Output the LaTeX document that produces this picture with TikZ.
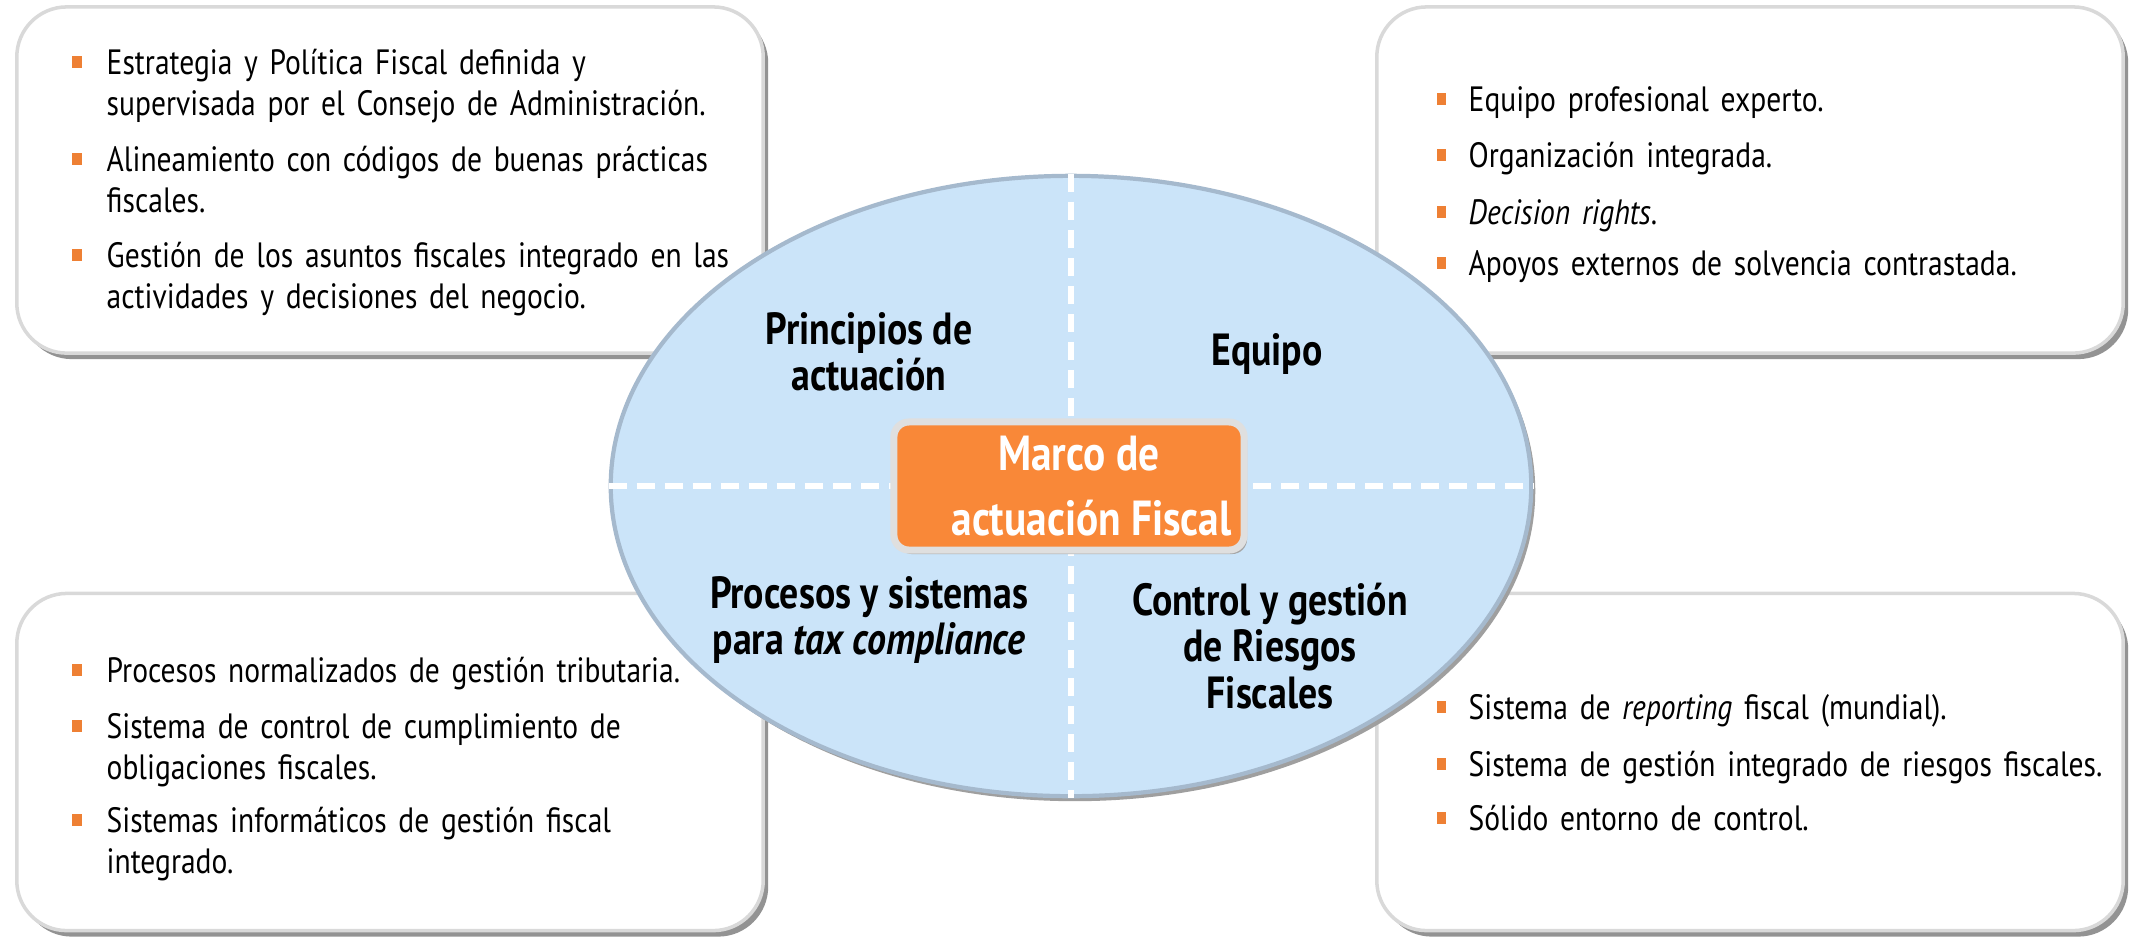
\documentclass[tikz,border=0pt]{standalone}
\usepackage{fontspec}
\setmainfont[FakeStretch=0.84]{PT Sans}
\usetikzlibrary{shapes.geometric,shadows,positioning}

\definecolor{marcoorange}{RGB}{249,136,56}
\definecolor{bulletorange}{RGB}{238,128,52}
\definecolor{marcoblue}{RGB}{203,228,249}
\definecolor{rimblue}{RGB}{165,185,205}

\tikzset{
  panel/.style={draw=gray!30, line width=1pt, fill=white, rounded corners=0.5cm,
    minimum width=7.46cm, minimum height=3.46cm,
    drop shadow={shadow xshift=0.05cm, shadow yshift=-0.06cm, fill=gray!85, opacity=1}},
  bullet/.style={fill=bulletorange, minimum width=0.09cm, minimum height=0.12cm, inner sep=0pt},
  item/.style={anchor=base west, text width=7cm, align=left, inner sep=0pt,
    font=\fontsize{10}{11.8}\selectfont},
  quarter/.style={align=center, inner sep=0pt, font=\bfseries\fontsize{12.8}{13.2}\selectfont},
  cut/.style={white, line width=0.06cm, dash pattern=on 0.18cm off 0.1cm}
}

\begin{document}
\begin{tikzpicture}[x=0.01cm,y=-0.01cm]
\useasboundingbox (0,0) rectangle (2129,941);

% four panels
\node[panel] (pol) at (390,180) {};
\node[panel] (team) at (1750,180) {};
\node[panel, minimum height=3.37cm] (proc) at (390,762) {};
\node[panel, minimum height=3.37cm] (risk) at (1750,762) {};

% principles
\node[bullet] (pol1b) at (77,62) {};
\node[item] (pol1) at (106,74) {Estrategia y Política Fiscal definida y\\supervisada por el Consejo de Administración.};
\node[bullet] (pol2b) at (77,159) {};
\node[item] (pol2) at (106,171) {Alineamiento con códigos de buenas prácticas\\fiscales.};
\node[bullet] (pol3b) at (77,255) {};
\node[item] (pol3) at (106,267) {Gestión de los asuntos fiscales integrado en las\\actividades y decisiones del negocio.};

% team
\node[bullet] (team1b) at (1441,99) {};
\node[item] (team1) at (1468,111) {Equipo profesional experto.};
\node[bullet] (team2b) at (1441,155) {};
\node[item] (team2) at (1468,167) {Organización integrada.};
\node[bullet] (team3b) at (1441,212) {};
\node[item] (team3) at (1468,224) {\textit{Decision rights}.};
\node[bullet] (team4b) at (1441,263) {};
\node[item] (team4) at (1468,275) {Apoyos externos de solvencia contrastada.};

% processes
\node[bullet] (proc1b) at (77,670) {};
\node[item] (proc1) at (106,682) {Procesos normalizados de gestión tributaria.};
\node[bullet] (proc2b) at (77,726) {};
\node[item] (proc2) at (106,738) {Sistema de control de cumplimiento de\\obligaciones fiscales.};
\node[bullet] (proc3b) at (77,820) {};
\node[item] (proc3) at (106,832) {Sistemas informáticos de gestión fiscal\\integrado.};

% risks
\node[bullet] (risk1b) at (1441,707) {};
\node[item] (risk1) at (1468,719) {Sistema de \textit{reporting} fiscal (mundial).};
\node[bullet] (risk2b) at (1441,764) {};
\node[item] (risk2) at (1468,776) {Sistema de gestión integrado de riesgos fiscales.};
\node[bullet] (risk3b) at (1441,818) {};
\node[item] (risk3) at (1468,830) {Sólido entorno de control.};

% centre
\node[ellipse, fill=marcoblue, draw=rimblue, line width=1.2pt,
  minimum width=9.2cm, minimum height=6.2cm,
  drop shadow={shadow xshift=0.04cm, shadow yshift=-0.05cm, fill=gray!75, opacity=1}] (wheel) at (1071,486) {};
\draw[cut] (wheel.north) -- (wheel.south);
\draw[cut] (wheel.west) -- (wheel.east);

\node[quarter] (q1) at (869,352) {Principios de\\actuación};
\node[quarter] (q2) at (1267,354) {Equipo};
\node[quarter] (q3) at (869,620) {Procesos y sistemas\\para \textit{tax compliance}};
\node[quarter] (q4) at (1270,646) {Control y gestión\\de Riesgos\\Fiscales};

\node[fill=marcoorange, draw=gray!25, line width=2pt, rounded corners=0.15cm,
  minimum width=3.5cm, minimum height=1.28cm, align=center, text=white,
  font=\bfseries\fontsize{14}{18.5}\selectfont,
  drop shadow={shadow xshift=0.03cm, shadow yshift=-0.04cm, fill=gray!70, opacity=1}]
  (marco) at (1069,486) {\hspace*{0.2cm}Marco de\\\hspace*{0.45cm}actuación Fiscal};
\end{tikzpicture}
\end{document}
